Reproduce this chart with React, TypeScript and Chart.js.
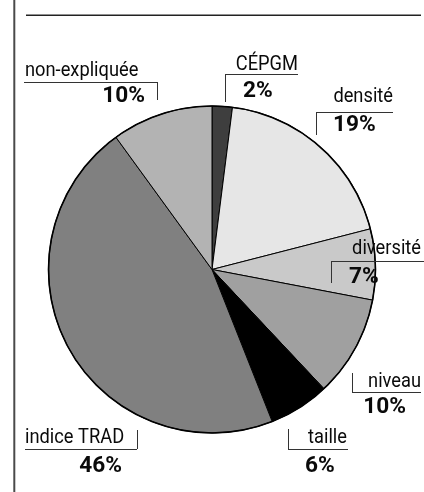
import React, { useEffect, useRef } from "react";
import { Chart, registerables } from "chart.js";

Chart.register(...registerables);

const categories = ["CÉPGM", "densité", "diversité", "niveau", "taille", "indice TRAD", "non-expliquée"];
const shares = [2, 19, 7, 10, 6, 46, 10];
const sliceColors = ["#3e3e3e", "#e6e6e6", "#c9c9c9", "#a0a0a0", "#000000", "#808080", "#b3b3b3"];

// annotation layout: label anchor, pct anchor, bracket geometry
type Lay = {
  lx: number; ly: number; la: CanvasTextAlign;
  px: number; py: number; pa: CanvasTextAlign;
  hy: number; hx1: number; hx2: number; vx: number; vy1: number; vy2: number;
};
const layouts: Lay[] = [
  { lx: 298, ly: 70, la: "right", px: 243, py: 97, pa: "left", hy: 74.5, hx1: 225, hx2: 298, vx: 225.5, vy1: 74, vy2: 102 },
  { lx: 393, ly: 102, la: "right", px: 333, py: 131, pa: "left", hy: 112.5, hx1: 316, hx2: 393, vx: 316.5, vy1: 112, vy2: 135 },
  { lx: 421, ly: 254, la: "right", px: 349, py: 283, pa: "left", hy: 261.5, hx1: 331, hx2: 424, vx: 331.5, vy1: 261, vy2: 283 },
  { lx: 421, ly: 387, la: "right", px: 406, py: 413, pa: "right", hy: 392.5, hx1: 352, hx2: 421, vx: 352.5, vy1: 373, vy2: 392 },
  { lx: 347, ly: 443, la: "right", px: 305, py: 472, pa: "left", hy: 449.5, hx1: 288, hx2: 348, vx: 288.5, vy1: 429, vy2: 449 },
  { lx: 25, ly: 443, la: "left", px: 122, py: 472, pa: "right", hy: 449.5, hx1: 25, hx2: 137, vx: 137.5, vy1: 430, vy2: 449 },
  { lx: 25, ly: 76, la: "left", px: 145, py: 102, pa: "right", hy: 82.5, hx1: 24, hx2: 157, vx: 157.5, vy1: 82, vy2: 100 },
];

function drawText(ctx: CanvasRenderingContext2D, t: string, x: number, y: number, align: CanvasTextAlign, font: string, sx: number) {
  ctx.save();
  ctx.font = font;
  ctx.textAlign = align;
  ctx.textBaseline = "alphabetic";
  ctx.translate(x, y);
  ctx.scale(sx, 1);
  ctx.fillText(t, 0, 0);
  ctx.restore();
}

const decorPlugin = {
  id: "decor",
  afterDraw(chart: any) {
    const ctx: CanvasRenderingContext2D = chart.ctx;
    const meta = chart.getDatasetMeta(0);
    const arc = meta.data[0];
    ctx.save();
    if (arc) {
      ctx.beginPath();
      ctx.arc(arc.x, arc.y, arc.outerRadius, 0, Math.PI * 2);
      ctx.lineWidth = 1.6;
      ctx.strokeStyle = "#000";
      ctx.stroke();
    }
    ctx.strokeStyle = "#4a4a4a";
    ctx.lineWidth = 2;
    ctx.beginPath();
    ctx.moveTo(14.3, 0);
    ctx.lineTo(14.3, 492);
    ctx.stroke();
    ctx.strokeStyle = "#222";
    ctx.lineWidth = 1.5;
    ctx.beginPath();
    ctx.moveTo(26, 15.2);
    ctx.lineTo(421, 15.2);
    ctx.stroke();
    ctx.fillStyle = "#0a0a0a";
    ctx.strokeStyle = "#333";
    ctx.lineWidth = 1;
    categories.forEach((c, i) => {
      const L = layouts[i];
      ctx.beginPath();
      ctx.moveTo(L.hx1, L.hy);
      ctx.lineTo(L.hx2, L.hy);
      ctx.moveTo(L.vx, L.vy1);
      ctx.lineTo(L.vx, L.vy2);
      ctx.stroke();
      drawText(ctx, c, L.lx, L.ly, L.la, "21px Roboto", 0.87);
      drawText(ctx, shares[i] + "%", L.px, L.py, L.pa, "bold 22px Roboto", 1.03);
    });
    ctx.restore();
  },
};

export default function App() {
  const ref = useRef<HTMLCanvasElement>(null);
  useEffect(() => {
    if (!ref.current) return;
    const chart = new Chart(ref.current, {
      type: "pie",
      data: {
        labels: categories,
        datasets: [
          {
            data: shares,
            backgroundColor: sliceColors,
            borderColor: "#000",
            borderWidth: 1,
          },
        ],
      },
      options: {
        responsive: false,
        animation: false,
        layout: { padding: { left: 48, right: 48, top: 105.5, bottom: 58.5 } },
        plugins: { legend: { display: false }, tooltip: { enabled: false } },
      },
      plugins: [decorPlugin],
    });
    return () => chart.destroy();
  }, []);
  return (
    <div style={{ position: "absolute", left: 0, top: 0, width: 424, height: 492, background: "#fff" }}>
      <canvas ref={ref} width={424} height={492} style={{ width: 424, height: 492, display: "block" }} />
    </div>
  );
}
